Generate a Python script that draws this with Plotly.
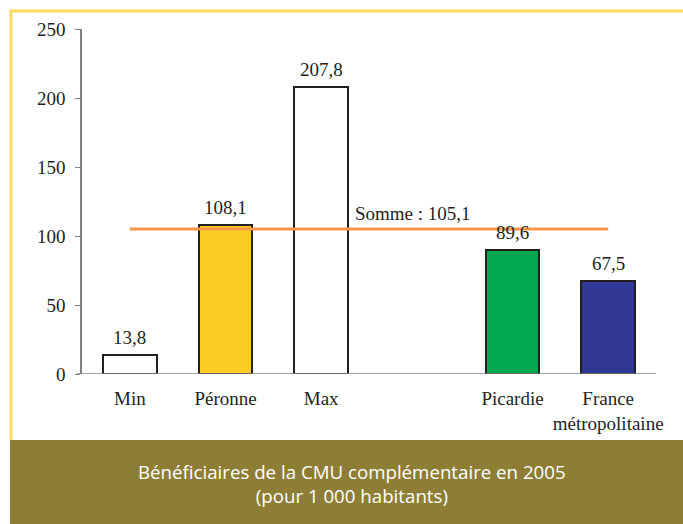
import plotly.graph_objects as go

categories = ["Min", "Péronne", "Max", "Picardie", "France<br>métropolitaine"]
positions = [0, 1, 2, 4, 5]
values = [13.8, 108.1, 207.8, 89.6, 67.5]
value_labels = ["13,8", "108,1", "207,8", "89,6", "67,5"]
bar_colors = ["#FFFFFF", "#FCCC25", "#FFFFFF", "#00A94F", "#313795"]
somme_value = 105.1
somme_label = "Somme : 105,1"
y_ticks = [0, 50, 100, 150, 200, 250]
caption = "Bénéficiaires de la CMU complémentaire en 2005<br>(pour 1 000 habitants)"

W, H = 683, 524
L, R, T, B = 82, 27, 29, 150
pw, ph = W - L - R, H - T - B


def px_x(p):
    return (p - L) / pw


def px_y(p):
    return (H - B - p) / ph


fig = go.Figure()
fig.add_trace(go.Bar(
    x=positions, y=values, width=0.56,
    marker=dict(color=bar_colors, line=dict(color="#231F20", width=2)),
    hoverinfo="skip", showlegend=False,
))
fig.add_trace(go.Scatter(
    x=[positions[0], positions[-1]], y=[somme_value, somme_value],
    mode="lines", line=dict(color="#F79646", width=3),
    hoverinfo="skip", showlegend=False,
))

serif = "Liberation Serif, Times New Roman, serif"
annotations = []
for x, v, t in zip(positions, values, value_labels):
    annotations.append(dict(x=x, y=v, text=t, showarrow=False, xanchor="center",
                            yanchor="bottom", yshift=5,
                            font=dict(family=serif, size=19, color="#231F20")))
annotations.append(dict(x=2.33, y=somme_value, text=somme_label, showarrow=False,
                        xanchor="left", yanchor="bottom", yshift=3,
                        font=dict(family=serif, size=19, color="#231F20")))
annotations.append(dict(xref="paper", yref="paper", x=px_x(352), y=px_y(483),
                        text=caption, showarrow=False, xanchor="center", yanchor="middle",
                        font=dict(family="Open Sans", size=18.7, color="#FFFFFF")))

shapes = [
    dict(type="rect", xref="paper", yref="paper", x0=px_x(10), x1=px_x(683),
         y0=px_y(440), y1=px_y(524), fillcolor="#8E7E35", line=dict(width=0), layer="below"),
    dict(type="line", xref="paper", yref="paper", x0=px_x(10), x1=px_x(683),
         y0=px_y(11), y1=px_y(11), line=dict(color="#FDDA62", width=3)),
    dict(type="line", xref="paper", yref="paper", x0=px_x(11), x1=px_x(11),
         y0=px_y(10), y1=px_y(440), line=dict(color="#FDDA62", width=3)),
    dict(type="line", xref="paper", yref="y", x0=px_x(77), x1=px_x(656),
         y0=0, y1=0, line=dict(color="#808080", width=1.5)),
]

fig.update_layout(
    width=W, height=H,
    margin=dict(l=L, r=R, t=T, b=B),
    paper_bgcolor="#FFFFFF", plot_bgcolor="#FFFFFF",
    showlegend=False, bargap=0,
    annotations=annotations, shapes=shapes,
    xaxis=dict(range=[-0.5, 5.5], tickvals=positions, ticktext=categories,
               showline=False, showgrid=False, zeroline=False, ticks="",
               ticklabelstandoff=11,
               tickfont=dict(family=serif, size=19, color="#231F20")),
    yaxis=dict(range=[0, 250], tickvals=y_ticks, showline=True, linecolor="#808080",
               linewidth=1.5, ticks="outside", ticklen=5, tickcolor="#808080",
               ticklabelstandoff=6,
               showgrid=False, zeroline=False,
               tickfont=dict(family=serif, size=19, color="#231F20")),
)

fig.write_html(
    "out.html",
    config={"displayModeBar": False},
    post_script="document.body.style.margin='0';document.body.style.overflow='hidden';",
)
